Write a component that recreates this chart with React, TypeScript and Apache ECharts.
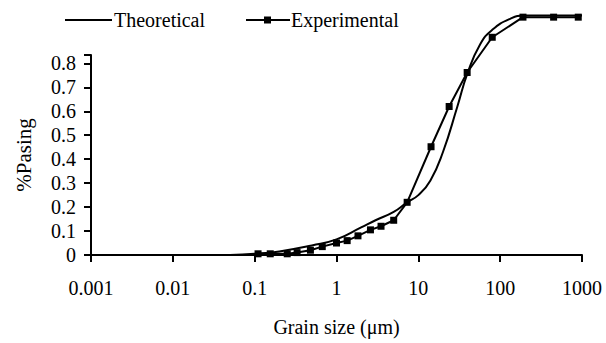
import React, { useEffect, useRef } from "react";
import * as echarts from "echarts";

const legendNames = ["Theoretical", "Experimental"];
const xTickValues = [0.001, 0.01, 0.1, 1, 10, 100, 1000];
const yTickMax = 0.8;

const theoreticalX = [0.05, 0.1, 0.2, 0.5, 1, 2, 3, 5, 7.3, 10, 14, 20, 30, 40, 57, 80, 130, 200, 1000];
const theoreticalY = [0, 0.005, 0.015, 0.04, 0.065, 0.115, 0.145, 0.18, 0.22, 0.25, 0.31, 0.43, 0.62, 0.76, 0.88, 0.94, 0.985, 1.0, 1.0];

const experimentalX = [0.11, 0.155, 0.25, 0.33, 0.48, 0.67, 1.0, 1.35, 1.83, 2.6, 3.5, 5.0, 7.3, 14.3, 23.8, 39.5, 80, 190, 450, 900];
const experimentalY = [0.005, 0.005, 0.005, 0.01, 0.02, 0.035, 0.05, 0.06, 0.08, 0.105, 0.12, 0.145, 0.22, 0.452, 0.62, 0.762, 0.909, 0.993, 0.993, 0.993];

const FONT = "Liberation Serif";

export default function App() {
  const ref = useRef<HTMLDivElement>(null);
  useEffect(() => {
    document.body.style.margin = "0";
    const chart = echarts.init(ref.current!, undefined, { renderer: "svg" });
    const legendY = 20;
    chart.setOption({
      animation: false,
      backgroundColor: "#ffffff",
      textStyle: { fontFamily: FONT, color: "#000" },
      graphic: [
        { type: "line", shape: { x1: 65, y1: legendY, x2: 112, y2: legendY }, style: { stroke: "#000", lineWidth: 2 } },
        {
          type: "text",
          x: 114,
          y: legendY,
          style: { text: legendNames[0], fill: "#000", font: `20px "${FONT}"`, textVerticalAlign: "middle", verticalAlign: "middle" },
        },
        { type: "line", shape: { x1: 246, y1: legendY, x2: 290, y2: legendY }, style: { stroke: "#000", lineWidth: 2 } },
        { type: "rect", shape: { x: 264, y: legendY - 3.5, width: 7, height: 7 }, style: { fill: "#000" } },
        {
          type: "text",
          x: 291,
          y: legendY,
          style: { text: legendNames[1], fill: "#000", font: `20px "${FONT}"`, textVerticalAlign: "middle", verticalAlign: "middle" },
        },
      ],
      grid: { left: 91, right: 24, top: 55, bottom: 88, containLabel: false },
      xAxis: {
        type: "log",
        logBase: 10,
        min: xTickValues[0],
        max: xTickValues[xTickValues.length - 1],
        name: "Grain size (μm)",
        nameLocation: "middle",
        nameGap: 62,
        nameTextStyle: { fontFamily: FONT, fontSize: 20, color: "#000" },
        axisLine: { lineStyle: { color: "#000", width: 2 } },
        axisTick: { show: true, length: 7, lineStyle: { color: "#000", width: 2 } },
        minorTick: { show: false },
        splitLine: { show: false },
        axisLabel: {
          fontFamily: FONT,
          fontSize: 20,
          color: "#000",
          margin: 23,
          formatter: (v: number) => String(v),
        },
      },
      yAxis: {
        type: "value",
        min: 0,
        max: 0.835,
        interval: 0.1,
        name: "%Pasing",
        nameLocation: "middle",
        nameGap: 57,
        nameRotate: 90,
        nameTextStyle: { fontFamily: FONT, fontSize: 21, color: "#000" },
        axisLine: { show: true, lineStyle: { color: "#000", width: 2 } },
        axisTick: { show: true, length: 7, lineStyle: { color: "#000", width: 2 } },
        splitLine: { show: false },
        axisLabel: {
          fontFamily: FONT,
          fontSize: 20,
          color: "#000",
          margin: 15,
          formatter: (v: number) => (v > yTickMax + 0.001 ? "" : String(Math.round(v * 10) / 10)),
        },
      },
      series: [
        {
          name: legendNames[0],
          type: "line",
          data: theoreticalX.map((x, i) => [x, theoreticalY[i]]),
          smooth: 0.5,
          symbol: "none",
          showSymbol: false,
          clip: false,
          lineStyle: { color: "#000", width: 2 },
          itemStyle: { color: "#000" },
        },
        {
          name: legendNames[1],
          type: "line",
          data: experimentalX.map((x, i) => [x, experimentalY[i]]),
          symbol: "rect",
          symbolSize: 7,
          showSymbol: true,
          showAllSymbol: true,
          clip: false,
          lineStyle: { color: "#000", width: 2 },
          itemStyle: { color: "#000" },
        },
      ],
    });
    return () => chart.dispose();
  }, []);
  return <div ref={ref} style={{ width: 606, height: 343 }} />;
}
